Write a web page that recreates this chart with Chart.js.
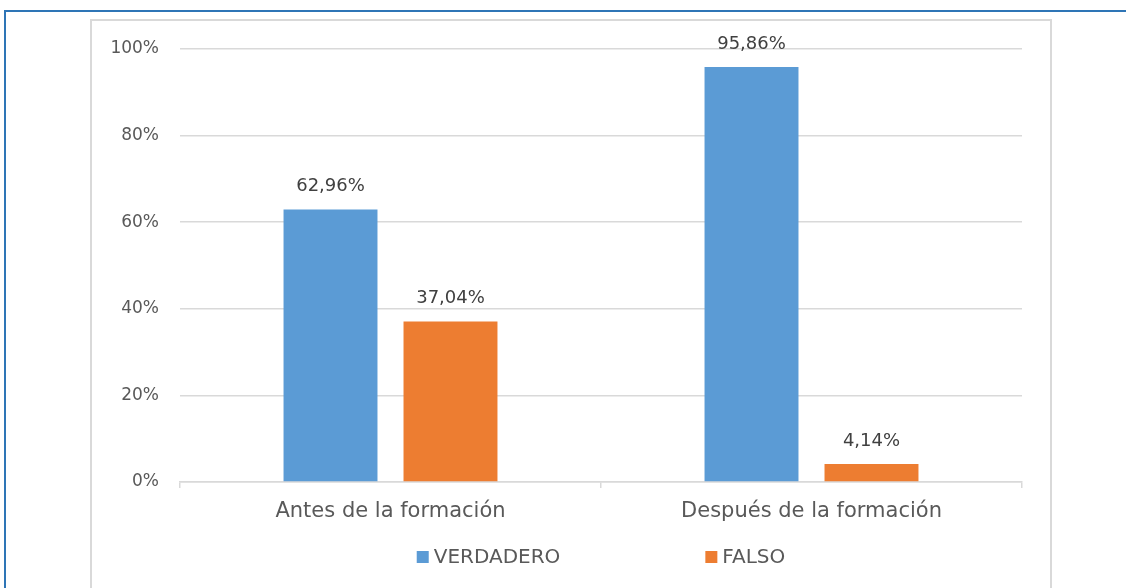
<!DOCTYPE html>
<html>
<head>
<meta charset="utf-8">
<script src="https://cdn.jsdelivr.net/npm/chart.js@4.4.1/dist/chart.umd.min.js"></script>
<style>
  html, body { margin: 0; padding: 0; background: #fff; overflow: hidden; }
  #page { position: relative; width: 1126px; height: 588px; }
  #outer { position: absolute; left: 4px; top: 10px; width: 1200px; height: 700px;
           border-top: 2px solid #2e75b6; border-left: 2px solid #2e75b6; }
  #frame { position: absolute; left: 90px; top: 19px; width: 958px; height: 700px;
           border: 2px solid #d9d9d9; }
  #wrap { position: absolute; left: 0; top: 0; width: 1126px; height: 588px; }
</style>
</head>
<body>
<div id="page">
  <div id="outer"></div>
  <div id="frame"></div>
  <div id="wrap"><canvas id="myChart"></canvas></div>
</div>
<script>
var categories = ["Antes de la formación", "Después de la formación"];
var verdadero = [62.96, 95.86];
var falso = [37.04, 4.14];
var yTicks = [0, 20, 40, 60, 80, 100];

var FONT = '"DejaVu Sans", sans-serif';
var TEXT = '#595959';

function pct(v) {
  return v.toFixed(2).replace('.', ',') + '%';
}

// value labels above the bars
var barLabels = {
  id: 'barLabels',
  afterDatasetsDraw: function(chart) {
    var ctx = chart.ctx;
    ctx.save();
    ctx.font = '18px ' + FONT;
    ctx.fillStyle = '#404040';
    ctx.textAlign = 'center';
    ctx.textBaseline = 'middle';
    chart.data.datasets.forEach(function(ds, i) {
      chart.getDatasetMeta(i).data.forEach(function(bar, j) {
        ctx.fillText(pct(ds.data[j]), bar.x, bar.y - 23);
      });
    });
    ctx.restore();
  }
};

// legend with a wide gap between the items
var wideLegend = {
  id: 'wideLegend',
  afterDraw: function(chart) {
    var ctx = chart.ctx;
    var gap = 145, box = 12, y = 557;
    ctx.save();
    ctx.font = '20px ' + FONT;
    var items = chart.data.datasets.map(function(ds) {
      return { text: ds.label, color: ds.backgroundColor, w: box + 5 + ctx.measureText(ds.label).width };
    });
    var total = items.reduce(function(s, it) { return s + it.w; }, 0) + gap * (items.length - 1);
    var x = (chart.chartArea.left + chart.chartArea.right) / 2 - total / 2;
    ctx.textBaseline = 'middle';
    items.forEach(function(it) {
      ctx.fillStyle = it.color;
      ctx.fillRect(x, y - box / 2, box, box);
      ctx.fillStyle = TEXT;
      ctx.fillText(it.text, x + box + 5, y + 1);
      x += it.w + gap;
    });
    ctx.restore();
  }
};

new Chart("myChart", {
  type: "bar",
  data: {
    labels: categories,
    datasets: [{
      label: 'VERDADERO',
      data: verdadero,
      backgroundColor: '#5b9bd5',
      categoryPercentage: 0.57,
      barPercentage: 0.783
    }, {
      label: 'FALSO',
      data: falso,
      backgroundColor: '#ed7d31',
      categoryPercentage: 0.57,
      barPercentage: 0.783
    }]
  },
  options: {
    responsive: true,
    maintainAspectRatio: false,
    animation: false,
    layout: { padding: { left: 0, right: 104, top: 49, bottom: 0 } },
    plugins: {
      legend: { display: false },
      tooltip: { enabled: false }
    },
    scales: {
      x: {
        afterFit: function(scale) { scale.height = 106; },
        grid: { display: true, drawOnChartArea: false, drawTicks: true, tickLength: 6, color: '#d9d9d9', lineWidth: 1.5 },
        border: { color: '#d9d9d9', width: 1.5 },
        ticks: { color: TEXT, font: { family: FONT, size: 21 }, padding: 11 }
      },
      y: {
        min: 0,
        max: 100,
        afterFit: function(scale) { scale.width = 180; },
        afterBuildTicks: function(scale) {
          scale.ticks = yTicks.map(function(v) { return { value: v }; });
        },
        grid: { color: '#d9d9d9', lineWidth: 1.5, drawTicks: false },
        border: { display: false },
        ticks: {
          color: TEXT,
          font: { family: FONT, size: 17 },
          padding: 21,
          callback: function(v) { return v + '%'; }
        }
      }
    }
  },
  plugins: [barLabels, wideLegend]
});
</script>
</body>
</html>
